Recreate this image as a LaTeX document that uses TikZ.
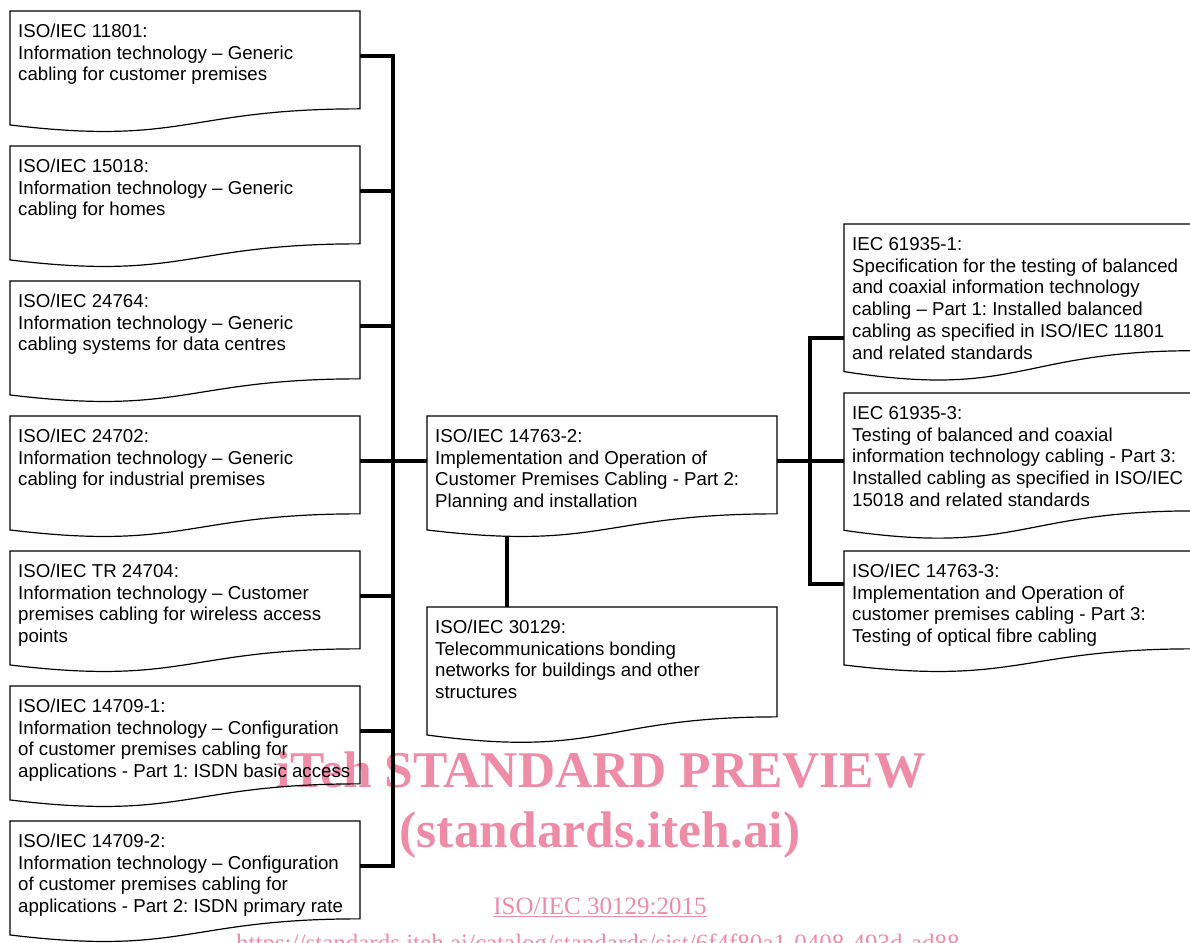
\documentclass[tikz,border=0pt]{standalone}
\usepackage{fontspec}
\setmainfont{Liberation Sans}
\newfontfamily\wmfont{Liberation Serif}
\usetikzlibrary{calc}
\frenchspacing
\definecolor{wmpink}{RGB}{238,140,168}
\tikzset{
  docrect/.style={draw=none, anchor=north west, inner sep=0pt, outer sep=0pt},
  docline/.style={draw=black, line width=1.2pt, line join=miter},
  doctext/.style={anchor=base west, inner sep=0pt, font=\fontsize{18.67}{21.7}\selectfont},
  conn/.style={draw=black, line width=3.2pt, line join=miter},
  wmbig/.style={text=wmpink, anchor=base, inner sep=0pt, font=\wmfont\bfseries\fontsize{51.5}{60}\selectfont},
  wmsmall/.style={text=wmpink, anchor=base, inner sep=0pt, font=\wmfont\fontsize{25}{30}\selectfont}
}
\newcommand\docbox[6]{%
  \node[docrect, minimum width=#4pt, minimum height=0.802*#5pt] (#1) at (#2,-#3) {};
  \draw[docline] (#1.north west) -- (#1.north east) -- (#1.south east)
     .. controls ($(#1.south east)+(-0.5*#4,0)$) and ($(#1.north west)+(0.5*#4,-1.1075*#5)$)
     .. ($(#1.north west)+(0,-0.934*#5)$) -- cycle;
  \node[doctext] (#1t) at ($(#1.north west)+(8,-26.5)$) {\begin{tabular}[t]{@{}l@{}}#6\end{tabular}};
}
\begin{document}
\begin{tikzpicture}[x=1pt,y=1pt]
\useasboundingbox (0,0) rectangle (1190,-942);
\clip (0,0) rectangle (1190,-942);
% watermark
\node[wmbig] (wm1) at (601,-787) {iTeh STANDARD PREVIEW};
\node[wmbig] (wm2) at (600,-847) {(standards.iteh.ai)};
\node[wmsmall] (wm3) at (600,-914) {\underline{ISO/IEC 30129:2015}};
\node[wmsmall] (wm4) at (602,-951) {https://standards.iteh.ai/catalog/standards/sist/6f4f80a1-0408-493d-ad88-};
% left column
\docbox{L1}{10}{11}{350}{122}{ISO/IEC 11801:\\Information technology – Generic\\cabling for customer premises}
\docbox{L2}{10}{146}{350}{122}{ISO/IEC 15018:\\Information technology – Generic\\cabling for homes}
\docbox{L3}{10}{281}{350}{122}{ISO/IEC 24764:\\Information technology – Generic\\cabling systems for data centres}
\docbox{L4}{10}{416}{350}{122}{ISO/IEC 24702:\\Information technology – Generic\\cabling for industrial premises}
\docbox{L5}{10}{551}{350}{122}{ISO/IEC TR 24704:\\Information technology – Customer\\premises cabling for wireless access\\points}
\docbox{L6}{10}{686}{350}{122}{ISO/IEC 14709-1:\\Information technology – Configuration\\of customer premises cabling for\\applications - Part 1: ISDN basic access}
\docbox{L7}{10}{821}{350}{122}{ISO/IEC 14709-2:\\Information technology – Configuration\\of customer premises cabling for\\applications - Part 2: ISDN primary rate}
% centre
\docbox{C}{427}{416}{350}{122}{ISO/IEC 14763-2:\\Implementation and Operation of\\Customer Premises Cabling - Part 2:\\Planning and installation}
\docbox{B}{427}{607}{350}{137}{ISO/IEC 30129:\\Telecommunications bonding\\networks for buildings and other\\structures}
% right column
\docbox{R1}{844}{224}{350}{158}{IEC 61935-1:\\Specification for the testing of balanced\\and coaxial information technology\\cabling – Part 1: Installed balanced\\cabling as specified in ISO/IEC 11801\\and related standards}
\docbox{R2}{844}{393}{350}{147}{IEC 61935-3:\\Testing of balanced and coaxial\\information technology cabling - Part 3:\\Installed cabling as specified in ISO/IEC\\15018 and related standards}
\docbox{R3}{844}{551}{350}{122}{ISO/IEC 14763-3:\\Implementation and Operation of\\customer premises cabling - Part 3:\\Testing of optical fibre cabling}
% left bus
\coordinate (lb1) at ($(L1.north east)+(33,-45)$);
\coordinate (lb7) at ($(L7.north east)+(33,-45)$);
\draw[conn] ($(L1.north east)+(0,-45)$) -- (lb1) -- (lb7) -- ($(L7.north east)+(0,-45)$);
\foreach \n in {L2,L3,L4,L5,L6}{
  \draw[conn] ($(\n.north east)+(0,-45)$) -- ++(33,0);
}
\draw[conn] ($(L4.north east)+(33,-45)$) -- ($(C.north west)+(0,-45)$);
% centre to bottom
\coordinate (cb) at ($(C.north west)+(80,-121)$);
\draw[conn] (cb) -- (cb |- B.north);
% right bus
\coordinate (rb1) at (810,-338);
\coordinate (rb3) at (810,-584);
\draw[conn] (R1.west |- rb1) -- (rb1) -- (rb3) -- (R3.west |- rb3);
\draw[conn] ($(C.north east)+(0,-45)$) -- (R2.west |- {$(C.north east)+(0,-45)$});
\end{tikzpicture}
\end{document}
